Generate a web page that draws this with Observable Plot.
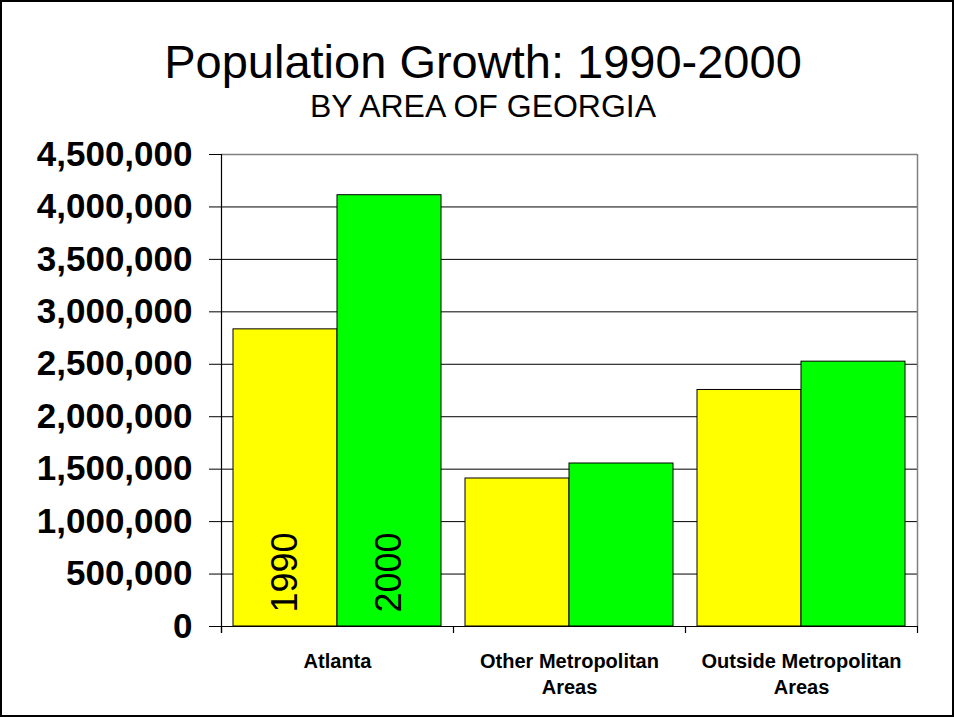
<!DOCTYPE html>
<html>
<head>
<meta charset="utf-8">
<script src="https://cdn.jsdelivr.net/npm/d3@7"></script>
<script src="https://cdn.jsdelivr.net/npm/@observablehq/plot@0.6"></script>
<style>
  html, body { margin: 0; padding: 0; background: #fff; }
  #frame { position: relative; width: 954px; height: 717px; box-sizing: border-box; border: 2px solid #000; overflow: hidden; font-family: "Liberation Sans", Arial, sans-serif; }
  #title { position: absolute; left: 0; width: 962px; top: 36px; text-align: center; font-size: 47px; line-height: 47px; color: #000; }
  #subtitle { position: absolute; left: 0; width: 962px; top: 88px; text-align: center; font-size: 32px; line-height: 32px; color: #000; }
  #chart { position: absolute; left: 0; top: 130px; }
</style>
</head>
<body>
<div id="frame">
  <div id="title">Population Growth: 1990-2000</div>
  <div id="subtitle">BY AREA OF GEORGIA</div>
  <div id="chart"></div>
</div>
<script>
const areas = ["Atlanta", "Other Metropolitan Areas", "Outside Metropolitan Areas"];
const areaLabels = ["Atlanta", "Other Metropolitan\nAreas", "Outside Metropolitan\nAreas"];
const years = ["1990", "2000"];
const pop1990 = [2833000, 1411000, 2255000];
const pop2000 = [4112000, 1554000, 2525000];
const yTicks = [0, 500000, 1000000, 1500000, 2000000, 2500000, 3000000, 3500000, 4000000, 4500000];
const yearColors = ["#FFFF00", "#00FF00"];

const data = [];
areas.forEach((a, i) => {
  data.push({area: a, year: years[0], value: pop1990[i]});
  data.push({area: a, year: years[1], value: pop2000[i]});
});
const yearLabels = years.map(yr => ({area: areas[0], year: yr}));
const labelOf = new Map(areas.map((a, i) => [a, areaLabels[i]]));
const yMax = yTicks[yTicks.length - 1];

const chart = Plot.plot({
  width: 950,
  height: 583,
  marginLeft: 218,
  marginRight: 34,
  marginTop: 22,
  marginBottom: 89,
  style: {fontFamily: "'Liberation Sans', Arial, sans-serif", background: "transparent", color: "#000"},
  fx: {domain: areas, padding: 0, label: null},
  x: {domain: years, paddingInner: 0, paddingOuter: 0.115, axis: null},
  y: {domain: [0, yMax], label: null},
  color: {domain: years, range: yearColors},
  marks: [
    Plot.gridY(yTicks.slice(1, -1), {stroke: "#000", strokeOpacity: 1, strokeWidth: 1}),
    Plot.ruleY([yMax], {stroke: "#808080", strokeWidth: 1.5}),
    Plot.barY(data, {fx: "area", x: "year", y: "value", fill: "year", stroke: "#000", strokeWidth: 1}),
    Plot.ruleY([0], {stroke: "#000", strokeWidth: 1}),
    Plot.text(yearLabels, {fx: "area", x: "year", y: () => 0, text: "year", rotate: -90, textAnchor: "start", lineAnchor: "middle", dy: -14, fontSize: 36, fill: "#000"}),
    Plot.axisY(yTicks, {tickSize: 12, tickPadding: 17, fontSize: 35, fontWeight: "bold", tickFormat: d3.format(","), stroke: "#000", label: null}),
    Plot.axisFx({anchor: "bottom", tickSize: 0, tickPadding: 23, fontSize: 20, fontWeight: "bold", lineHeight: 1.3, tickFormat: d => labelOf.get(d), label: null})
  ]
});

document.getElementById("chart").appendChild(chart);

// axis lines and category boundary ticks, placed with the plot's own scales
const fx = chart.scale("fx");
const y = chart.scale("y");
const y0 = y.apply(0), yTop = y.apply(yMax);
const bounds = areas.map(a => fx.apply(a)).concat([fx.apply(areas[areas.length - 1]) + fx.bandwidth]);
const g = d3.select(chart).append("g").attr("stroke", "#000").attr("stroke-width", 1.2);
g.selectAll("line.b").data(bounds).join("line")
  .attr("x1", d => Math.round(d) + 0.5).attr("x2", d => Math.round(d) + 0.5)
  .attr("y1", y0).attr("y2", y0 + 7);
g.append("line")
  .attr("x1", Math.round(bounds[0]) + 0.5).attr("x2", Math.round(bounds[0]) + 0.5)
  .attr("y1", yTop).attr("y2", y0 + 7);
g.append("line")
  .attr("stroke", "#808080").attr("stroke-width", 1.5)
  .attr("x1", Math.round(bounds[3]) + 0.5).attr("x2", Math.round(bounds[3]) + 0.5)
  .attr("y1", yTop).attr("y2", y0);
</script>
</body>
</html>
